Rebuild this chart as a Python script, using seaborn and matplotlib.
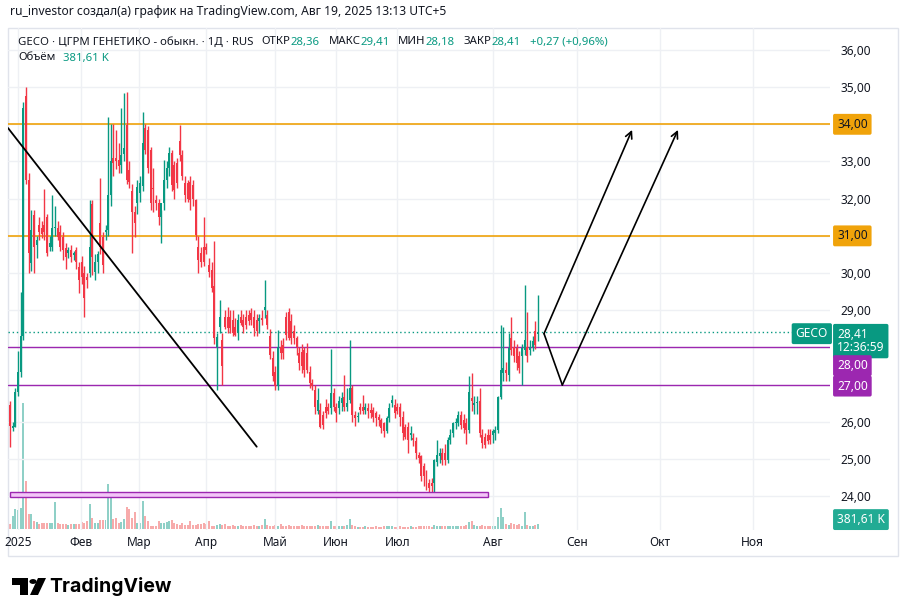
import matplotlib
matplotlib.use("Agg")
import matplotlib.pyplot as plt
import matplotlib.transforms as mtransforms
from matplotlib.patches import Rectangle, Polygon, Circle
import seaborn as sns
import pandas as pd

W, H = 908, 616

# ---- daily candles GECO, Jan 2025 .. Aug 19 2025 ----
opens = [
    26.45, 25.82, 25.87, 26.80, 27.35, 28.30, 34.75, 32.50, 30.27, 31.56,
    30.75, 31.30, 31.20, 31.30, 31.50, 30.70, 30.70, 31.20, 31.20, 31.10,
    30.98, 30.67, 30.53, 30.62, 30.49, 30.62, 30.17, 30.31, 30.00, 29.90,
    30.00, 31.85, 30.04, 30.30, 31.34, 30.98, 31.10, 31.16, 32.10, 33.10,
    33.09, 33.05, 32.91, 33.20, 33.99, 32.77, 32.20, 31.65, 31.89, 32.15,
    32.33, 33.90, 33.85, 33.31, 32.30, 31.97, 31.88, 31.52, 31.88, 32.51,
    32.82, 33.22, 32.91, 32.95, 33.54, 33.18, 32.42, 32.42, 32.46, 32.37,
    31.97, 30.71, 30.53, 30.71, 30.71, 30.22, 30.09, 29.64, 28.00, 28.56,
    28.20, 28.83, 28.83, 28.83, 28.74, 28.56, 28.38, 28.83, 28.74, 28.83,
    28.88, 28.92, 28.83, 28.74, 28.70, 28.79, 29.01, 28.88, 28.30, 27.71,
    27.35, 26.95, 28.02, 28.07, 28.83, 28.96, 28.70, 28.43, 28.25, 27.85,
    27.89, 27.94, 27.85, 27.35, 27.04, 26.86, 26.28, 26.32, 26.19, 26.41,
    26.41, 26.37, 26.77, 26.41, 26.37, 26.50, 26.68, 26.41, 26.59, 26.90,
    26.19, 26.12, 26.41, 26.41, 26.32, 26.37, 26.32, 26.32, 26.23, 26.14,
    26.05, 25.96, 25.74, 26.10, 26.50, 26.46, 26.41, 26.41, 26.14, 25.87,
    25.87, 25.65, 25.56, 25.47, 25.11, 25.07, 24.80, 24.62, 24.35, 24.35,
    24.35, 24.93, 25.07, 25.16, 25.16, 24.98, 25.52, 25.69, 25.96, 25.96,
    26.19, 26.05, 25.96, 25.78, 26.64, 26.46, 26.50, 26.55, 25.65, 25.60,
    25.65, 25.65, 25.65, 25.69, 25.78, 26.68, 27.30, 27.40, 27.26, 28.25,
    28.02, 27.98, 27.76, 27.76, 27.94, 28.02, 27.94, 28.02, 28.43, 28.36,
]
highs = [
    26.55, 26.00, 26.90, 27.90, 29.50, 34.60, 35.00, 32.70, 31.70, 31.70,
    31.00, 31.50, 31.40, 32.25, 31.60, 31.00, 32.10, 31.80, 31.40, 31.30,
    31.10, 30.80, 30.70, 30.75, 30.60, 30.70, 30.30, 30.45, 30.20, 30.00,
    31.97, 31.97, 30.50, 30.60, 32.56, 31.10, 31.30, 34.21, 34.00, 34.00,
    33.85, 33.50, 34.44, 34.84, 34.87, 33.00, 32.40, 31.80, 32.50, 32.60,
    34.33, 34.00, 33.95, 33.40, 32.82, 32.10, 32.00, 31.70, 33.04, 33.00,
    33.40, 33.30, 33.00, 33.10, 33.99, 33.30, 32.60, 32.50, 32.60, 32.50,
    32.00, 31.00, 30.70, 31.52, 30.80, 30.40, 30.31, 30.85, 28.40, 29.28,
    28.40, 29.01, 29.10, 29.00, 29.00, 28.80, 28.90, 29.00, 28.90, 29.00,
    29.00, 29.05, 29.00, 28.90, 28.90, 29.00, 29.80, 29.00, 28.50, 27.90,
    27.50, 28.47, 28.20, 28.25, 28.96, 29.05, 28.90, 28.60, 28.30, 28.00,
    28.10, 28.00, 28.12, 27.50, 27.15, 27.00, 26.90, 26.50, 26.30, 26.60,
    26.50, 27.95, 26.90, 26.50, 26.70, 26.80, 27.26, 26.90, 28.20, 27.00,
    26.30, 26.25, 26.50, 26.73, 26.50, 26.50, 26.50, 26.40, 26.30, 26.20,
    26.10, 26.00, 26.15, 26.50, 26.73, 26.60, 26.50, 26.50, 26.30, 25.95,
    26.00, 25.90, 25.70, 25.60, 25.20, 25.10, 24.90, 24.70, 24.45, 24.50,
    25.00, 25.52, 25.30, 25.30, 25.40, 25.60, 25.80, 26.00, 26.10, 26.30,
    26.30, 26.20, 26.10, 27.22, 27.31, 26.70, 26.70, 26.90, 25.80, 25.70,
    25.80, 25.80, 25.80, 25.90, 26.70, 28.60, 28.56, 27.60, 28.40, 28.83,
    28.20, 28.10, 27.90, 28.10, 29.68, 28.96, 28.20, 28.30, 28.70, 29.41,
]
lows = [
    25.33, 25.75, 25.85, 26.70, 27.20, 28.20, 32.40, 30.00, 30.05, 30.00,
    30.40, 30.90, 30.95, 30.90, 30.45, 30.60, 30.60, 31.00, 30.90, 30.60,
    30.35, 30.10, 30.40, 30.30, 30.35, 30.10, 29.46, 29.70, 28.83, 29.60,
    29.90, 29.95, 29.80, 30.00, 30.50, 30.00, 30.90, 31.00, 31.80, 32.60,
    32.80, 32.70, 32.70, 33.00, 32.40, 32.30, 30.54, 30.98, 31.60, 31.90,
    32.20, 33.20, 32.70, 31.70, 31.65, 31.70, 31.30, 30.80, 31.70, 32.30,
    32.60, 32.20, 32.00, 32.30, 33.00, 32.50, 31.90, 31.90, 31.70, 31.80,
    30.90, 30.00, 30.17, 30.20, 30.50, 29.90, 29.50, 28.10, 26.86, 28.40,
    26.99, 28.50, 28.40, 28.40, 28.30, 28.30, 28.20, 28.60, 28.40, 28.50,
    28.60, 28.60, 28.30, 28.30, 28.40, 28.60, 28.80, 28.50, 27.70, 27.10,
    26.85, 26.85, 27.70, 27.70, 28.20, 28.20, 28.10, 28.10, 27.80, 27.40,
    27.30, 27.20, 27.30, 26.90, 26.85, 26.20, 26.20, 25.83, 25.80, 26.10,
    26.20, 26.20, 26.30, 26.00, 26.20, 26.30, 26.30, 26.30, 26.50, 26.00,
    25.90, 26.00, 26.20, 26.20, 26.20, 26.10, 26.10, 26.00, 25.90, 25.90,
    25.70, 25.60, 25.70, 26.00, 26.40, 26.10, 26.20, 25.90, 25.50, 25.55,
    25.16, 25.50, 25.35, 25.00, 24.90, 24.40, 24.26, 24.17, 24.12, 24.10,
    23.99, 24.80, 24.90, 24.85, 24.85, 24.90, 25.40, 25.60, 25.80, 25.90,
    25.80, 25.70, 25.40, 25.70, 26.30, 26.20, 26.20, 25.60, 25.30, 25.29,
    25.40, 25.40, 25.43, 25.50, 25.70, 26.60, 27.10, 27.10, 27.10, 27.80,
    27.60, 27.40, 27.30, 26.99, 27.80, 27.60, 27.80, 27.90, 27.95, 28.18,
]
closes = [
    25.90, 25.88, 26.80, 27.35, 28.30, 34.45, 32.50, 30.55, 31.16, 30.70,
    30.90, 31.10, 31.05, 31.10, 30.55, 30.80, 31.20, 31.25, 30.98, 30.70,
    30.62, 30.44, 30.62, 30.44, 30.53, 30.31, 29.82, 29.90, 29.32, 29.80,
    30.71, 30.44, 30.30, 30.50, 30.71, 30.22, 31.15, 32.10, 33.00, 32.97,
    33.00, 32.87, 33.18, 33.35, 32.51, 32.45, 31.65, 31.34, 32.32, 32.42,
    33.49, 33.31, 32.82, 31.88, 32.25, 31.88, 31.52, 31.88, 32.51, 32.82,
    33.22, 32.37, 32.24, 32.42, 33.18, 32.60, 32.10, 32.00, 31.97, 32.00,
    31.03, 30.36, 30.31, 30.31, 30.62, 30.04, 29.59, 28.25, 28.29, 28.83,
    27.49, 28.56, 28.52, 28.52, 28.38, 28.34, 28.74, 28.65, 28.56, 28.60,
    28.70, 28.74, 28.52, 28.43, 28.79, 28.74, 29.10, 28.60, 27.80, 27.22,
    26.95, 28.02, 27.85, 27.85, 28.34, 28.25, 28.25, 28.25, 28.02, 27.58,
    27.49, 27.40, 27.40, 27.04, 26.95, 26.41, 26.59, 25.87, 25.92, 26.23,
    26.28, 26.77, 26.41, 26.23, 26.55, 26.64, 26.41, 26.50, 26.90, 26.19,
    26.10, 26.16, 26.32, 26.28, 26.41, 26.28, 26.23, 26.14, 26.10, 26.05,
    25.83, 25.74, 26.10, 26.37, 26.59, 26.23, 26.28, 26.14, 25.70, 25.60,
    25.52, 25.70, 25.52, 25.16, 25.02, 24.53, 24.53, 24.35, 24.22, 24.26,
    24.98, 25.11, 25.16, 24.98, 24.98, 25.52, 25.65, 25.96, 25.99, 26.19,
    25.92, 25.83, 25.78, 26.81, 26.55, 26.50, 26.52, 25.70, 25.43, 25.38,
    25.47, 25.52, 25.74, 25.78, 26.68, 27.40, 27.44, 27.31, 27.98, 27.94,
    27.76, 27.58, 27.44, 27.98, 28.20, 27.76, 28.02, 28.16, 28.07, 28.41,
]
volumes_k = [
    380, 1000, 1500, 1400, 1600, 9500, 3650, 1150, 1150, 600,
    500, 380, 450, 450, 450, 450, 450, 2050, 450, 400,
    380, 380, 300, 350, 350, 400, 400, 500, 450, 600,
    1900, 800, 450, 450, 700, 700, 700, 3400, 2500, 750,
    800, 450, 500, 750, 1650, 1500, 800, 1300, 450, 450,
    2100, 1000, 600, 250, 250, 250, 600, 450, 450, 500,
    600, 700, 450, 400, 300, 450, 300, 300, 600, 300,
    300, 400, 400, 450, 400, 600, 250, 250, 300, 350,
    300, 380, 250, 230, 300, 230, 250, 300, 230, 200,
    250, 230, 300, 250, 230, 300, 750, 300, 250, 230,
    300, 250, 380, 230, 250, 300, 230, 200, 250, 230,
    300, 250, 230, 250, 200, 230, 300, 250, 200, 230,
    250, 600, 230, 250, 200, 230, 250, 300, 750, 300,
    200, 150, 150, 180, 200, 150, 150, 180, 200, 150,
    180, 200, 230, 250, 230, 180, 150, 200, 180, 150,
    150, 200, 180, 150, 230, 200, 250, 200, 230, 180,
    300, 250, 230, 200, 230, 200, 250, 230, 250, 200,
    230, 250, 300, 530, 600, 300, 250, 230, 300, 250,
    250, 230, 200, 230, 900, 1600, 900, 400, 300, 450,
    350, 300, 400, 250, 1300, 300, 200, 250, 300, 381.61,
]

month_labels = ["2025", "Фев", "Мар", "Апр", "Май", "Июн", "Июл", "Авг", "Сен", "Окт", "Ноя"]
month_pos = [3, 26.8, 48.6, 73.9, 100, 123, 146, 182, 213.7, 245, 280]
price_ticks = [24, 25, 26, 27, 28, 29, 30, 31, 32, 33, 34, 35, 36]
covered_ticks = [27, 28, 31, 34]

resistance = [34.0, 31.0]
support = [28.0, 27.0]
last_price = 28.41
zone_x = [-0.1, 180.2]
zone_y = [23.98, 24.12]
trend_x = [-0.75, 93.0]
trend_y = [33.90, 25.33]
up_path_x = [201.3, 234.5]
up_path_y = [28.37, 33.85]
down_path_x = [201.3, 208.2, 251.8]
down_path_y = [28.37, 26.99, 33.85]

UP, DOWN = "#089981", "#F23645"
ORANGE, PURPLE = "#F0A30A", "#9C27B0"
TXT = "#131722"

sns.set_theme(style="white")
plt.rcParams["font.family"] = ["Noto Sans", "DejaVu Sans"]


def fx(px):
    return px / W


def fy(py):
    return 1 - py / H


fig = plt.figure(figsize=(W / 100, H / 100), dpi=100)
fig.patch.set_facecolor("white")

x_lo, x_hi = -0.754, 309.1

# Volume panel (behind price)
vol_df = pd.DataFrame({
    "i": range(len(volumes_k)),
    "vol": volumes_k,
    "dir": ["up" if c >= o else "down" for o, c in zip(opens, closes)],
})
axv = fig.add_axes([fx(8), fy(529), fx(830) - fx(8), 140 / H], zorder=0)
sns.barplot(data=vol_df, x="i", y="vol", hue="dir", native_scale=True, dodge=False,
            palette={"up": "#8fd0c7", "down": "#f7abab"}, width=0.75, errorbar=None,
            legend=False, saturation=1, linewidth=0, ax=axv)
axv.set_xlim(x_lo, x_hi)
axv.set_ylim(0, 9500 * 140 / 126)
axv.axis("off")

# Price panel
ax = fig.add_axes([fx(8), fy(530), 822 / W, 502 / H], zorder=1)
ax.set_facecolor("none")
ax.set_xlim(x_lo, x_hi)
ax.set_ylim(23.09, 36.59)
for s in ax.spines.values():
    s.set_visible(False)

ax.set_yticks(price_ticks)
ax.set_yticklabels(["" if t in covered_ticks else f"{t},00" for t in price_ticks])
ax.yaxis.tick_right()
ax.set_xticks(month_pos)
ax.set_xticklabels(month_labels)
ax.tick_params(axis="y", length=0, pad=7.5, labelsize=8.6, labelcolor=TXT)
ax.tick_params(axis="x", length=0, pad=4, labelsize=8.6, labelcolor=TXT)
ax.grid(True, color="#eef0f4", lw=1)
ax.set_axisbelow(True)

# candles
for i, (o, h, l, c) in enumerate(zip(opens, highs, lows, closes)):
    col = UP if c >= o else DOWN
    ax.vlines(i, l, h, color=col, lw=1.0, zorder=3)
    ax.bar(i, max(abs(c - o), 0.03), bottom=min(o, c), width=0.75, color=col,
           linewidth=0, zorder=3)

# levels
for lvl in resistance:
    ax.axhline(lvl, color=ORANGE, lw=1.2, zorder=2)
for lvl in support:
    ax.axhline(lvl, color=PURPLE, lw=1.0, zorder=2)
ax.axhline(last_price, color=UP, lw=1, ls=(0, (1, 2)), zorder=2)

ax.add_patch(Rectangle((zone_x[0], zone_y[0]), zone_x[1] - zone_x[0], zone_y[1] - zone_y[0],
                       facecolor="#f3c6f8", edgecolor=PURPLE, lw=1, zorder=4))

# drawings
ax.plot(trend_x, trend_y, color="black", lw=1.3, zorder=5)
ax.annotate("", xy=(up_path_x[1], up_path_y[1]), xytext=(up_path_x[0], up_path_y[0]),
            arrowprops=dict(arrowstyle="->", color="black", lw=1.2, shrinkA=0, shrinkB=0,
                            mutation_scale=12), zorder=5)
ax.plot(down_path_x[:2], down_path_y[:2], color="black", lw=1.2, zorder=5)
ax.annotate("", xy=(down_path_x[2], down_path_y[2]), xytext=(down_path_x[1], down_path_y[1]),
            arrowprops=dict(arrowstyle="->", color="black", lw=1.2, shrinkA=0, shrinkB=0,
                            mutation_scale=12), zorder=5)

# price scale tags
tr = mtransforms.blended_transform_factory(ax.transAxes, ax.transData)
xt = (837 - 8) / 822


def tag(y, text, fc, tc="white", x=xt, ha="left"):
    ax.text(x, y, text, transform=tr, ha=ha, va="center", fontsize=8.6, color=tc,
            linespacing=1.05, clip_on=False, zorder=10,
            bbox=dict(boxstyle="round,pad=0.33,rounding_size=0.15", fc=fc, ec="none"))


tag(34.0, "34,00", ORANGE, tc=TXT)
tag(31.0, "31,00", ORANGE, tc=TXT)
tag(28.17, "28,41\n12:36:59", UP)
tag(27.51, "28,00", PURPLE)
tag(26.96, "27,00", PURPLE)
tag(23.37, "381,61 K", "#22ab94")
tag(28.37, "GECO", UP, x=(828 - 8) / 822, ha="right")

# header texts
fig.text(fx(10), fy(12), "ru_investor создал(а) график на TradingView.com, Авг 19, 2025 13:13 UTC+5",
         fontsize=8.7, color=TXT, va="center")

renderer = fig.canvas.get_renderer()


def segments(x0, y, parts, size=8.2):
    x = x0
    for text, col, gap in parts:
        t = fig.text(fx(x), fy(y), text, fontsize=size, color=col, va="center", ha="left")
        x += t.get_window_extent(renderer=renderer).width + gap


segments(18, 42, [
    ("GECO · ЦГРМ ГЕНЕТИКО - обыкн. · 1Д · RUS", TXT, 8),
    ("ОТКР", TXT, 0), ("28,36", UP, 9),
    ("МАКС", TXT, 0), ("29,41", UP, 8),
    ("МИН", TXT, 0), ("28,18", UP, 9),
    ("ЗАКР", TXT, 0), ("28,41", UP, 9),
    ("+0,27 (+0,96%)", UP, 0),
])
segments(18, 58, [("Объём", TXT, 8), ("381,61 K", UP, 0)])

# widget frame
fig.add_artist(Rectangle((fx(8), fy(556)), fx(898) - fx(8), (556 - 28) / H,
                         transform=fig.transFigure, fill=False, ec="#e0e3eb", lw=1))

# TradingView logo
logo = [(12, 578), (28, 578), (28, 595), (20, 595), (20, 585), (12, 585)]
fig.add_artist(Polygon([(fx(a), fy(b)) for a, b in logo], closed=True,
                       transform=fig.transFigure, fc="black", ec="none"))
fig.add_artist(Circle((fx(33), fy(581.5)), 3.6 / W, transform=fig.transFigure,
                      fc="black", ec="none"))
slash = [(38, 578), (46, 578), (38, 595), (30, 595)]
fig.add_artist(Polygon([(fx(a), fy(b)) for a, b in slash], closed=True,
                       transform=fig.transFigure, fc="black", ec="none"))
fig.text(fx(49), fy(586), "TradingView", fontsize=14, fontweight="bold",
         color="black", va="center", family=["Inter", "DejaVu Sans"])

fig.savefig("out.png", dpi=100)
